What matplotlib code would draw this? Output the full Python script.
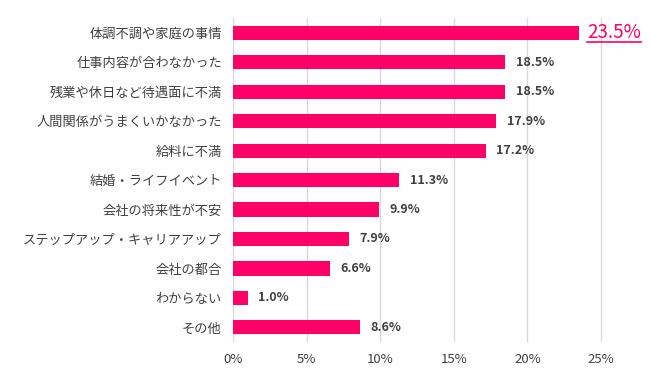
import matplotlib.pyplot as plt
from matplotlib.lines import Line2D

plt.rcParams['font.family'] = ['Noto Sans CJK JP', 'DejaVu Sans']

categories = ['体調不調や家庭の事情', '仕事内容が合わなかった', '残業や休日など待遇面に不満',
              '人間関係がうまくいかなかった', '給料に不満', '結婚・ライフイベント',
              '会社の将来性が不安', 'ステップアップ・キャリアアップ', '会社の都合',
              'わからない', 'その他']
values = [23.5, 18.5, 18.5, 17.9, 17.2, 11.3, 9.9, 7.9, 6.6, 1.0, 8.6]
xticks = [0, 5, 10, 15, 20, 25]

pink = '#FF0066'
gray = '#404040'

fig = plt.figure(figsize=(6.5, 3.91), dpi=100)
ax = fig.add_axes([0.3585, 0.125, 0.634, 0.829])

y = list(range(len(categories)))
ax.barh(y, values, height=0.48, color=pink, zorder=3)
ax.set_ylim(len(categories) - 0.5, -0.5)
ax.set_xlim(0, 28)
ax.set_xticks(xticks)
ax.set_xticklabels([f'{t}%' for t in xticks], fontsize=9.5, color=gray)
ax.set_yticks(y)
ax.set_yticklabels(categories, fontsize=9.5, color=gray)
ax.tick_params(length=0, pad=8)
ax.tick_params(axis='x', pad=8)
ax.grid(axis='x', color='#d9d9d9', linewidth=1, zorder=0)
for s in ax.spines.values():
    s.set_visible(False)

for i, v in enumerate(values):
    if i == 0:
        t = ax.text(v + 0.55, i, f'{v}%', va='center', ha='left', fontsize=13.5,
                    color=pink)
    else:
        ax.text(v + 0.7, i, f'{v}%', va='center', ha='left', fontsize=9,
                color=gray, fontweight='semibold')

# underline for the top value
fig.canvas.draw()
bb = t.get_window_extent().transformed(fig.transFigure.inverted())
fig.add_artist(Line2D([bb.x0, bb.x1], [bb.y0 + 0.004, bb.y0 + 0.004],
                      transform=fig.transFigure, color=pink, linewidth=1.2))

fig.savefig('out.png', dpi=100)
